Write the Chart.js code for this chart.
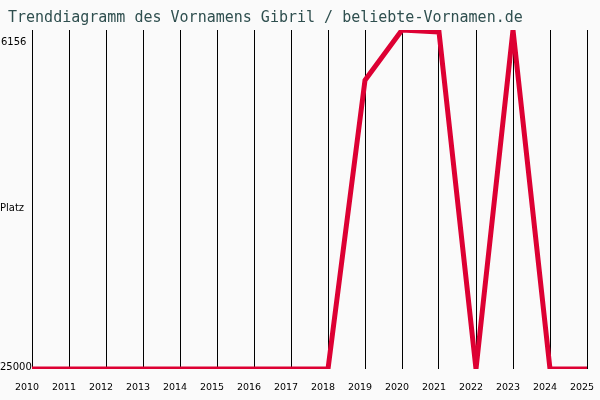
<!DOCTYPE html>
<html>
<head>
<meta charset="utf-8">
<script src="https://cdn.jsdelivr.net/npm/chart.js@4"></script>
<style>
  html, body { margin: 0; padding: 0; background: #fafafa; }
  #wrap { width: 600px; height: 400px; }
</style>
</head>
<body>
<div id="wrap"><canvas id="chartCanvas" width="600" height="400"></canvas></div>
<script>
// data (rank: lower = better, axis inverted)
const years = ['2010', '2011', '2012', '2013', '2014', '2015', '2016', '2017',
               '2018', '2019', '2020', '2021', '2022', '2023', '2024', '2025'];
const ranks = [25000, 25000, 25000, 25000, 25000, 25000, 25000, 25000,
               25000, 8950, 6156, 6270, 25000, 6156, 25000, 25000];
const bestRank = 6156;
const worstRank = 25000;
const yLabels = ['6156', 'Platz', '25000'];

// y labels are drawn by hand, left of the plot, like the original
const yLabelPlugin = {
  id: 'yLabels',
  afterDraw(chart) {
    const { ctx, chartArea } = chart;
    ctx.save();
    ctx.font = '10px "DejaVu Sans"';
    ctx.fillStyle = '#000';
    ctx.textBaseline = 'middle';
    ctx.textAlign = 'left';
    ctx.fillText(yLabels[0], 1, chartArea.top + 12);
    ctx.fillText(yLabels[1], 0, (chartArea.top + chartArea.bottom) / 2 + 9);
    ctx.fillText(yLabels[2], 0, chartArea.bottom - 2);
    ctx.restore();
  }
};

const bgPlugin = {
  id: 'bg',
  beforeDraw(chart) {
    const { ctx } = chart;
    ctx.save();
    ctx.fillStyle = '#fafafa';
    ctx.fillRect(0, 0, chart.width, chart.height);
    ctx.restore();
  }
};

const ctx = document.getElementById('chartCanvas').getContext('2d');

new Chart(ctx, {
  type: 'line',
  data: {
    labels: years,
    datasets: [{
      data: ranks,
      borderColor: '#dd0033',
      borderWidth: 5,
      pointRadius: 0,
      tension: 0,
      fill: false
    }]
  },
  options: {
    responsive: false,
    animation: false,
    layout: { padding: { left: 8, right: 13, top: 0, bottom: 0 } },
    plugins: {
      legend: { display: false },
      tooltip: { enabled: false },
      title: {
        display: true,
        text: 'Trenddiagramm des Vornamens Gibril / beliebte-Vornamen.de',
        align: 'start',
        color: '#2f4f4f',
        font: { family: '"DejaVu Sans Mono"', size: 15, weight: 'normal' },
        padding: { top: 9, bottom: 3 }
      }
    },
    scales: {
      x: {
        type: 'category',
        offset: false,
        grid: { color: '#000', lineWidth: 1, drawTicks: false },
        border: { display: false },
        ticks: {
          color: '#000',
          font: { family: '"DejaVu Sans"', size: 9.5 },
          padding: 13,
          labelOffset: -5,
          maxRotation: 0,
          autoSkip: false
        },
        afterFit(scale) {
          scale.height = 31;
          scale.paddingLeft = 0;
          scale.paddingRight = 0;
        }
      },
      y: {
        reverse: true,
        min: bestRank,
        max: worstRank,
        grid: { display: false },
        border: { display: false },
        ticks: { display: false },
        afterFit(scale) { scale.width = 24; }
      }
    }
  },
  plugins: [bgPlugin, yLabelPlugin]
});
</script>
</body>
</html>
